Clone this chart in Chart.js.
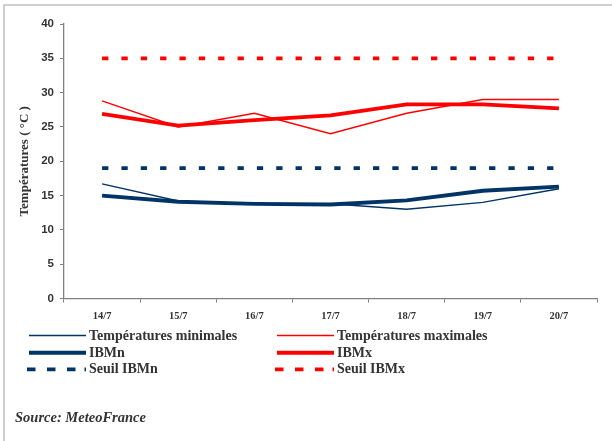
<!DOCTYPE html>
<html>
<head>
<meta charset="utf-8">
<script src="https://cdn.jsdelivr.net/npm/chart.js@4/dist/chart.umd.min.js"></script>
<style>
html,body{margin:0;padding:0;background:#fff;}
#wrap{width:612px;height:441px;position:relative;}
</style>
</head>
<body>
<div id="wrap"><canvas id="c" width="612" height="441"></canvas></div>
<script>
const categories = ['14/7','15/7','16/7','17/7','18/7','19/7','20/7'];
const tempMin = [16.7, 14.2, 13.8, 13.8, 13.0, 14.0, 16.0];
const tempMax = [28.8, 25.0, 27.0, 24.0, 27.0, 29.0, 29.0];
const ibmn = [15.0, 14.1, 13.8, 13.7, 14.3, 15.7, 16.3];
const ibmx = [26.9, 25.2, 26.0, 26.7, 28.3, 28.3, 27.7];
const seuilIBMn = [19, 19, 19, 19, 19, 19, 19];
const seuilIBMx = [35, 35, 35, 35, 35, 35, 35];
const yTicks = [0, 5, 10, 15, 20, 25, 30, 35, 40];
const legendLabels = ['Températures minimales','Températures maximales','IBMn','IBMx','Seuil IBMn','Seuil IBMx'];
const yTitle = 'Températures ( °C )';
const sourceText = 'Source: MeteoFrance';

const NAVY = '#003366';
const RED = '#ff0000';
const serif = '"Liberation Serif","Times New Roman",serif';

const datasets = [
  {label: legendLabels[4], data: seuilIBMn, borderColor: NAVY, borderWidth: 3.7, borderDash: [6.3, 13.05], borderCapStyle: 'butt'},
  {label: legendLabels[5], data: seuilIBMx, borderColor: RED, borderWidth: 3.7, borderDash: [6.3, 13.05], borderCapStyle: 'butt'},
  {label: legendLabels[2], data: ibmn, borderColor: NAVY, borderWidth: 3.8},
  {label: legendLabels[3], data: ibmx, borderColor: RED, borderWidth: 3.8},
  {label: legendLabels[0], data: tempMin, borderColor: NAVY, borderWidth: 1.4},
  {label: legendLabels[1], data: tempMax, borderColor: RED, borderWidth: 1.4}
];
datasets.forEach(d => { d.pointRadius = 0; d.pointHoverRadius = 0; d.tension = 0; d.fill = false; });

const legendPlugin = {
  id: 'customLegend',
  beforeDraw(chart) {
    const ctx = chart.ctx;
    ctx.save();
    ctx.fillStyle = '#fff';
    ctx.fillRect(0, 0, chart.width, chart.height);
    ctx.strokeStyle = '#c0c0c0';
    ctx.lineWidth = 1.5;
    ctx.beginPath();
    ctx.moveTo(4, 441); ctx.lineTo(4, 5); ctx.lineTo(612, 5);
    ctx.stroke();
    ctx.restore();
  },
  afterDraw(chart) {
    const ctx = chart.ctx;
    ctx.save();
    const items = [
      {ds: 4, col: 0, row: 0}, {ds: 5, col: 1, row: 0},
      {ds: 2, col: 0, row: 1}, {ds: 3, col: 1, row: 1},
      {ds: 0, col: 0, row: 2}, {ds: 1, col: 1, row: 2}
    ];
    const colX = [29, 277];
    const rowY = [335.5, 352.7, 369.3];
    const lineLen = 57;
    items.forEach(it => {
      const d = chart.data.datasets[it.ds];
      const x0 = colX[it.col], y = rowY[it.row];
      ctx.strokeStyle = d.borderColor;
      ctx.lineCap = 'butt';
      if (d.borderDash) {
        ctx.lineWidth = 3.8;
        ctx.setLineDash([8.5, 11.5]);
        ctx.beginPath();
        ctx.moveTo(x0 - 2, y); ctx.lineTo(x0 + 47, y);
        ctx.stroke();
        ctx.setLineDash([]);
        ctx.beginPath();
        ctx.moveTo(x0 + lineLen - 1.5, y); ctx.lineTo(x0 + lineLen, y);
        ctx.stroke();
      } else {
        ctx.lineWidth = d.borderWidth > 2 ? 4 : 1.5;
        ctx.setLineDash([]);
        ctx.beginPath();
        ctx.moveTo(x0, y); ctx.lineTo(x0 + lineLen, y);
        ctx.stroke();
      }
      ctx.fillStyle = '#333';
      ctx.font = 'bold 14px ' + serif;
      ctx.textBaseline = 'middle';
      ctx.textAlign = 'left';
      ctx.fillText(d.label, x0 + lineLen + 3, y + 0.5);
    });
    ctx.font = 'italic bold 14.5px ' + serif;
    ctx.fillStyle = '#333';
    ctx.textBaseline = 'middle';
    ctx.fillText(sourceText, 15, 418.5);
    ctx.restore();
  }
};

new Chart(document.getElementById('c'), {
  type: 'line',
  data: {labels: categories, datasets: datasets},
  options: {
    responsive: false,
    animation: false,
    devicePixelRatio: 1,
    layout: {padding: {left: 0, right: 15, top: 24, bottom: 0}},
    plugins: {legend: {display: false}, tooltip: {enabled: false}},
    scales: {
      x: {
        offset: true,
        grid: {offset: true, drawOnChartArea: false, tickLength: 4, color: '#808080', tickWidth: 1},
        border: {color: '#808080', width: 1.3},
        ticks: {color: '#333', font: {family: serif, size: 10.5, weight: 'bold'}, padding: 7, maxRotation: 0, autoSkip: false},
        afterFit(s) { s.height = 441 - 298.5; }
      },
      y: {
        min: 0, max: 40,
        afterBuildTicks(s) { s.ticks = yTicks.map(v => ({value: v})); },
        grid: {drawOnChartArea: false, tickLength: 4, color: '#808080'},
        border: {color: '#808080', width: 1.3},
        ticks: {color: '#333', font: {family: '"Liberation Sans",Arial,sans-serif', size: 11.5, weight: 'bold'}, padding: 6},
        title: {display: true, text: yTitle, color: '#333', font: {family: serif, size: 13, weight: 'bold'}, padding: {top: 17, bottom: 0}},
        afterFit(s) { s.width = 64; }
      }
    }
  },
  plugins: [legendPlugin]
});
</script>
</body>
</html>
